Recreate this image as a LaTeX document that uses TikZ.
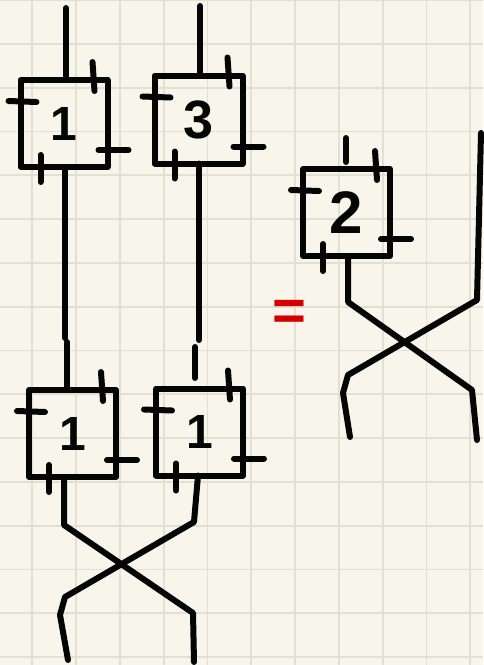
\documentclass[tikz,border=0pt]{standalone}
\usepackage{fontspec}
\setmainfont{Liberation Sans}
\usetikzlibrary{calc}
\definecolor{paper}{HTML}{F8F6EA}
\definecolor{gridline}{HTML}{E2E0D2}
\definecolor{ink}{HTML}{050505}
\definecolor{marker}{HTML}{D40000}
\tikzset{
    tensor/.style={rectangle, draw=ink, line width=6pt, line join=round, outer sep=0pt, inner sep=0pt, minimum width=87pt, minimum height=87pt, text=ink, font=\fontsize{48}{48}\selectfont\bfseries},
    wire/.style={line width=6pt, line cap=round, line join=round, color=ink},
    leg/.style={line width=6pt, line cap=round, color=ink},
    sheet/.style={line width=1.8pt, color=gridline},
    eqsign/.style={text=marker, inner sep=0pt, font=\fontsize{58}{58}\selectfont\bfseries}
}
\begin{document}
\begin{tikzpicture}[x=1pt, y=-1pt]

% ── Paper ──
\fill[paper] (0,0) rectangle (483,665);
\useasboundingbox (0,0) rectangle (483,665);
\foreach \i in {0,...,10} \draw[sheet] (32.3+43.8*\i,0) -- (32.3+43.8*\i,665);
\foreach \j in {0,...,15} \draw[sheet] (0,43.8*\j) -- (483,43.8*\j);

% ── Left side: boxes ──
\node[tensor] (b1) at (64,123.5) {1};
\node[tensor, minimum width=88pt, minimum height=88pt, font=\fontsize{54}{54}\selectfont\bfseries] (b3) at (198.5,119.5) {3};
\node[tensor] (c1) at (72.5,433.5) {1};
\node[tensor] (c2) at (199.5,432) {1};

% ── Right side: box ──
\node[tensor, font=\fontsize{60}{60}\selectfont\bfseries] (b2) at (346.5,212.5) {2};

% ── Equals sign ──
\node[eqsign] (eq) at (289,315) {=};

% ── Legs of every box ──
\foreach \b in {b1,b3,c1,c2,b2} {
    \draw[leg] ($(\b.north east)+(-15,-18)$) -- ($(\b.north east)+(-13,11)$);
    \draw[leg] ($(\b.north west)+(-12,21)$) -- ($(\b.north west)+(16,22)$);
    \draw[leg] ($(\b.south east)+(-9,-17)$) -- ($(\b.south east)+(21,-17)$);
    \draw[leg] ($(\b.south west)+(20,-12)$) -- ($(\b.south west)+(20,15)$);
}

% ── Top wires ──
\coordinate (in1) at (66,8);
\coordinate (in3) at (200,6);
\draw[wire] (in1) -- (in1 |- b1.north);
\draw[wire] (in3) -- (in3 |- b3.north);

% ── Vertical wires down to the lower boxes ──
\coordinate (m1) at (65,338);
\coordinate (m1b) at (67,342);
\draw[wire] (m1 |- b1.south) -- (m1);
\draw[wire] (m1b) -- (m1b |- c1.north);
\coordinate (m3) at (199,340);
\coordinate (m3b) at (195,347);
\coordinate (m3c) at (195,378);
\draw[wire] (m3 |- b3.south) -- (m3);
\draw[wire] (m3b) -- (m3c);

% ── Crossing under the lower boxes ──
\coordinate (x1) at (64,525);
\coordinate (x2) at (194,522);
\draw[wire] (x1 |- c1.south) -- (x1) -- (193,613) -- (194,662);
\draw[wire] (198,0 |- c2.south) -- (x2) -- (65,597) -- (60,615) -- (68,660);

% ── Right side wires ──
\coordinate (s2) at (346,138);
\draw[wire] (s2) -- ++(0,24);
\coordinate (y1) at (348,302);
\draw[wire] (y1 |- b2.south) -- (y1) -- (472,390) -- (477,440);
\coordinate (top4) at (481,133);
\draw[wire] (top4) -- (477,300) -- (348,375) -- (343,393) -- (350,437);

\end{tikzpicture}
\end{document}
